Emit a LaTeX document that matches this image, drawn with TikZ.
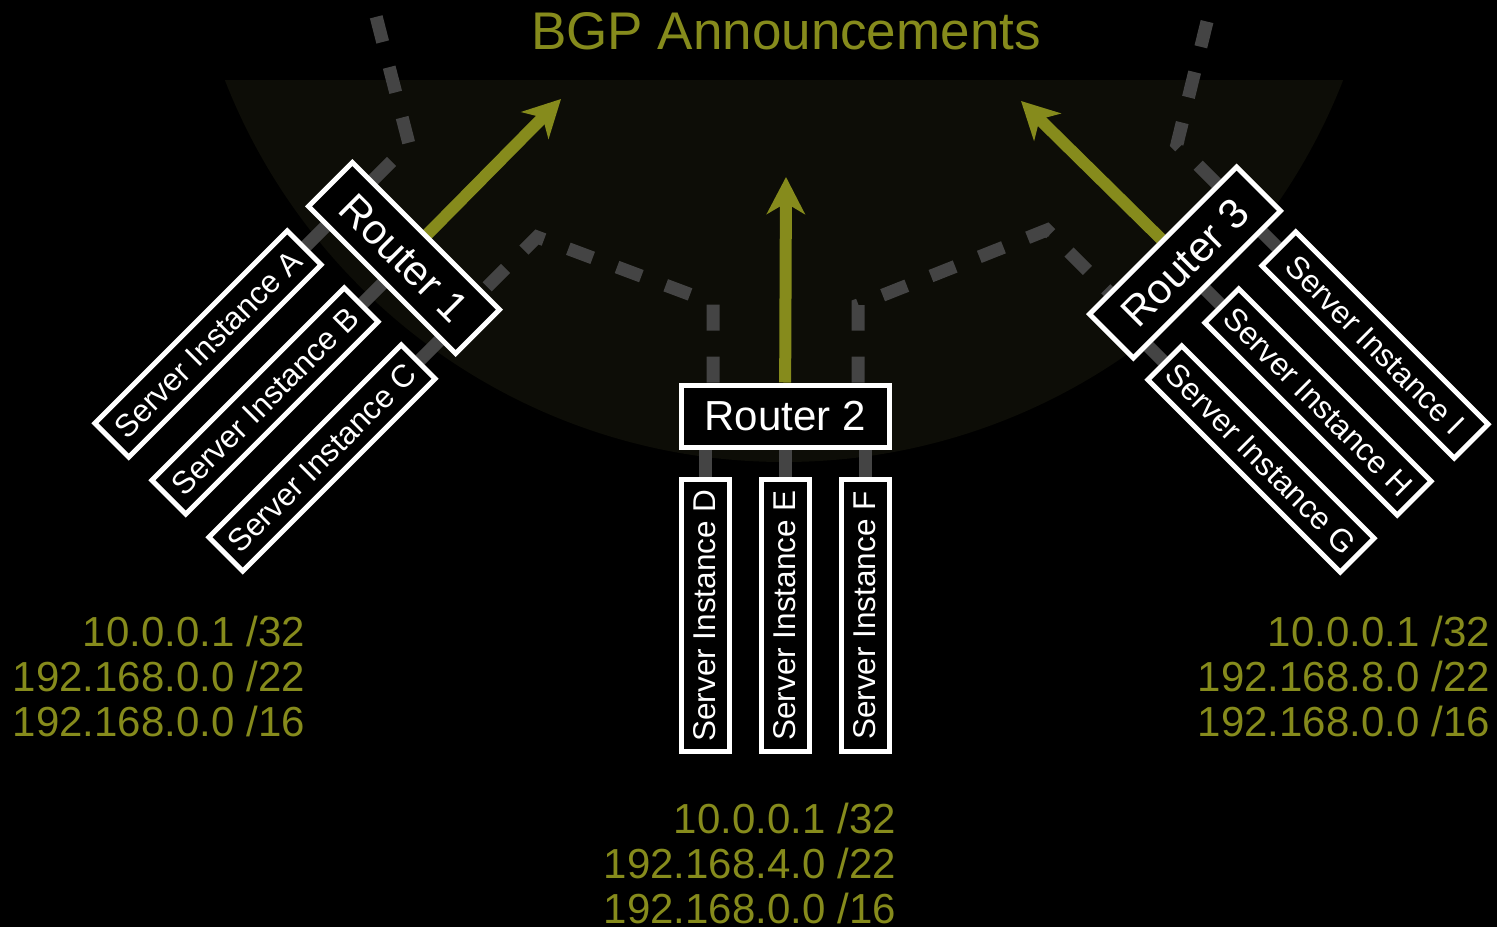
\documentclass[tikz,border=0pt]{standalone}
\usepackage{fontspec}
\setmainfont{Liberation Sans}
\usetikzlibrary{arrows.meta, calc}
\definecolor{bgp-olive}{HTML}{868B1C}
\definecolor{bgp-shade}{HTML}{0D0D07}
\definecolor{bgp-gray}{HTML}{444444}
\pgfdeclarelayer{back}
\pgfdeclarelayer{wires}
\pgfsetlayers{back,wires,main}

\begin{document}
\begin{tikzpicture}[x=1pt, y=-1pt,
    box/.style={rectangle, draw=white, line width=5pt, fill=black, text=white, inner sep=0pt},
    router/.style={box, minimum width=208pt, minimum height=62pt, font=\fontsize{42}{42}\selectfont},
    server/.style={box, minimum width=272pt, minimum height=48pt, font=\fontsize{31.5}{31.5}\selectfont},
    wire/.style={draw=bgp-gray, line width=13pt},
    dashwire/.style={wire, dash pattern=on 26pt off 26pt},
    announce/.style={draw=bgp-olive, line width=12pt, -{Stealth[length=37pt, width=38pt, inset=11pt]}},
    addr/.style={anchor=base east, inner sep=0pt, text=bgp-olive, font=\fontsize{42}{45}\selectfont}
]

% Background and announcement reach
\begin{pgfonlayer}{back}
\fill[black] (0,0) rectangle (1497,927);
\begin{scope}
\clip (0,80) rectangle (1497,927);
\fill[bgp-shade] (784,-138) circle[radius=600];
\end{scope}
\end{pgfonlayer}
\useasboundingbox (0,0) rectangle (1497,927);

% Title
\node[anchor=base, inner sep=0pt, text=bgp-olive, font=\fontsize{53}{53}\selectfont] (title) at (786,49.5) {BGP Announcements};

% Routers
\node[router, rotate=-45] (r1) at (404,258) {Router 1};
\node[router] (r2) at (785,416) {Router 2};
\node[router, rotate=45] (r3) at (1185,262.5) {Router 3};

% Server instances
\node[server, rotate=45] (sa) at (208,344) {Server Instance A};
\node[server, rotate=45] (sb) at (265,401) {Server Instance B};
\node[server, rotate=45] (sc) at (322,458) {Server Instance C};
\node[server, rotate=90] (sd) at (705,615.5) {Server Instance D};
\node[server, rotate=90] (se) at (785,615.5) {Server Instance E};
\node[server, rotate=90] (sf) at (865,615.5) {Server Instance F};
\node[server, rotate=-45] (sg) at (1261,459) {Server Instance G};
\node[server, rotate=-45] (sh) at (1318,402) {Server Instance H};
\node[server, rotate=-45] (si) at (1375,345) {Server Instance I};

% Bends of the router links
\coordinate (up1) at (409,144);
\coordinate (sky1) at (368,-15);
\coordinate (bend12) at (537,237);
\coordinate (knee12) at (713,303);
\coordinate (knee23) at (858,305);
\coordinate (bend23) at (1047,230);
\coordinate (up3) at (1177,144);
\coordinate (sky3) at (1216,-15);
\coordinate (tip1) at (561,99);
\coordinate (tip2) at (786,177);
\coordinate (tip3) at (1021,101);

\begin{pgfonlayer}{wires}
% Server to router links
\draw[wire] (sa) -- ($(r1.south west)!(sa)!(r1.south east)$);
\draw[wire] (sb) -- ($(r1.south west)!(sb)!(r1.south east)$);
\draw[wire] (sc) -- ($(r1.south west)!(sc)!(r1.south east)$);
\draw[wire] (sd) -- (sd |- r2);
\draw[wire] (se) -- (se |- r2);
\draw[wire] (sf) -- (sf |- r2);
\draw[wire] (sg) -- ($(r3.south west)!(sg)!(r3.south east)$);
\draw[wire] (sh) -- ($(r3.south west)!(sh)!(r3.south east)$);
\draw[wire] (si) -- ($(r3.south west)!(si)!(r3.south east)$);

% Router to router links
\draw[dashwire] ($(r1.north west)!(up1)!(r1.north east)$) -- (up1) -- (sky1);
\draw[dashwire] (knee12 |- r2.north) -- (knee12) -- (bend12) -- ($(r1.north west)!(bend12)!(r1.north east)$);
\draw[dashwire] (knee23 |- r2.north) -- (knee23) -- (bend23) -- ($(r3.north west)!(bend23)!(r3.north east)$);
\draw[dashwire] ($(r3.north west)!(up3)!(r3.north east)$) -- (up3) -- (sky3);

% Announcements
\draw[announce] (r1) -- (tip1);
\draw[announce] (r2) -- (tip2);
\draw[announce] (r3) -- (tip3);
\end{pgfonlayer}

% Announced prefixes
\node[addr] (ipl1) at (305,646.7) {10.0.0.1 /32};
\node[addr] (ipl2) at (305,691.7) {192.168.0.0 /22};
\node[addr] (ipl3) at (305,736.7) {192.168.0.0 /16};
\node[addr] (ipm1) at (896,833.3) {10.0.0.1 /32};
\node[addr] (ipm2) at (896,878.3) {192.168.4.0 /22};
\node[addr] (ipm3) at (896,923.3) {192.168.0.0 /16};
\node[addr] (ipr1) at (1490,646.7) {10.0.0.1 /32};
\node[addr] (ipr2) at (1490,691.7) {192.168.8.0 /22};
\node[addr] (ipr3) at (1490,736.7) {192.168.0.0 /16};

\end{tikzpicture}
\end{document}
